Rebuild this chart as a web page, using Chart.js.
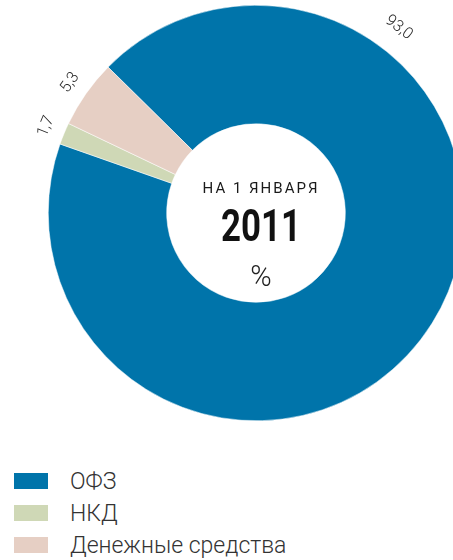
<!DOCTYPE html>
<html>
<head>
<meta charset="utf-8">
<script src="https://cdn.jsdelivr.net/npm/chart.js@4"></script>
<style>
    html, body { margin: 0; padding: 0; background: #fff; }
    body { width: 453px; height: 560px; overflow: hidden; position: relative; font-family: Roboto, sans-serif; }
    #chartBox { position: absolute; left: 0; top: 0; width: 512px; height: 430px; }
    #legend { position: absolute; left: 14px; top: 465px; }
    .legend-row { display: flex; align-items: center; height: 32px; }
    .legend-box { width: 34px; height: 16px; margin-right: 22px; }
    .legend-text { font-size: 23px; font-weight: 300; color: #333; }
</style>
</head>
<body>
<div id="chartBox"><canvas id="donut" width="512" height="430"></canvas></div>
<div id="legend"></div>

<script>
// Structure on 1 January 2011, %
const categories = ['ОФЗ', 'НКД', 'Денежные средства'];
const shares = [93.0, 1.7, 5.3];
const valueLabels = ['93,0', '1,7', '5,3'];
const colors = ['#0074AA', '#CFD8B6', '#E6CFC4'];

// Value labels drawn outside the ring, turned along the arc
const arcLabels = {
    id: 'arcLabels',
    afterDatasetsDraw(chart, args, opts) {
        const ctx = chart.ctx;
        const arcs = chart.getDatasetMeta(0).data;
        ctx.save();
        ctx.font = '300 16px Roboto';
        ctx.fillStyle = '#2a2a2a';
        ctx.textAlign = 'center';
        ctx.textBaseline = 'middle';
        arcs.forEach((arc, i) => {
            const over = opts.overrides[i] || {};
            // angle measured clockwise from the top
            let a = (arc.startAngle + arc.endAngle) / 2 + Math.PI / 2;
            if (over.angle !== undefined) a = over.angle * Math.PI / 180;
            const r = over.radius || opts.radius;
            const x = arc.x + r * Math.sin(a);
            const y = arc.y - r * Math.cos(a);
            ctx.save();
            ctx.translate(x, y);
            ctx.rotate(a);
            ctx.fillText(valueLabels[i], 0, 0);
            ctx.restore();
        });
        ctx.restore();
    }
};

// Text inside the hole
const centerText = {
    id: 'centerText',
    afterDraw(chart) {
        const ctx = chart.ctx;
        const arc = chart.getDatasetMeta(0).data[0];
        const cx = arc.x + 5;
        const cy = arc.y;
        ctx.save();
        ctx.textAlign = 'center';
        ctx.textBaseline = 'middle';
        ctx.fillStyle = '#1a1a1a';
        ctx.font = '400 15px Roboto';
        ctx.letterSpacing = '2px';
        ctx.fillText('НА 1 ЯНВАРЯ', cx, cy - 24);
        ctx.letterSpacing = '0px';
        ctx.fillStyle = '#111';
        ctx.font = '700 45px Roboto';
        ctx.fillText('2011', cx, cy + 17, 80);
        ctx.font = '300 29px Roboto';
        ctx.fillStyle = '#222';
        ctx.fillText('%', cx, cy + 66);
        ctx.restore();
    }
};

new Chart(document.getElementById('donut'), {
    type: 'doughnut',
    data: {
        labels: categories,
        datasets: [{
            data: shares,
            backgroundColor: colors,
            borderColor: '#ffffff',
            borderWidth: 0.5
        }]
    },
    options: {
        responsive: false,
        animation: false,
        rotation: -45.4,
        cutout: '43%',
        layout: { padding: { top: 5, bottom: 9, left: 0, right: 0 } },
        plugins: {
            legend: { display: false },
            tooltip: { enabled: false },
            arcLabels: {
                radius: 227,
                overrides: { 0: { angle: 37.6, radius: 234 } }
            }
        }
    },
    plugins: [arcLabels, centerText]
});

// HTML legend built from the same arrays
const legend = document.getElementById('legend');
categories.forEach((name, i) => {
    const row = document.createElement('div');
    row.className = 'legend-row';
    const box = document.createElement('div');
    box.className = 'legend-box';
    box.style.background = colors[i];
    const text = document.createElement('span');
    text.className = 'legend-text';
    text.textContent = name;
    row.appendChild(box);
    row.appendChild(text);
    legend.appendChild(row);
});
</script>
</body>
</html>
